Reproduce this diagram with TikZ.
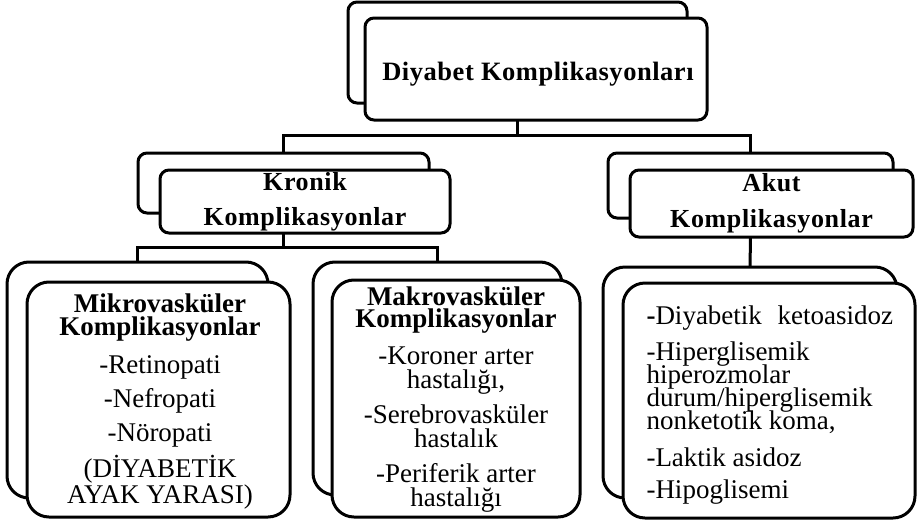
\documentclass[tikz,border=0pt]{standalone}
\usepackage{fontspec}
\setmainfont{Liberation Serif}
\newfontfamily\titlefont{Liberation Serif}[LetterSpace=2]
\newfontfamily\trackfont{Liberation Serif}[LetterSpace=2.5]
\begin{document}
\begin{tikzpicture}[x=1pt,y=-1pt,line width=3pt,
  box/.style={draw=black, fill=white, inner sep=0pt, outer sep=0pt, rounded corners=#1},
  box/.default=9pt,
  link/.style={draw=black, line width=3pt},
  head/.style={font={\trackfont\bfseries\fontsize{26}{35}\selectfont\lineskiplimit=-100pt}, align=center},
  list/.style={inner sep=0pt, font={\fontsize{27}{#1}\selectfont\lineskiplimit=-100pt}},
  list/.default=23]
\useasboundingbox (0,0) rectangle (917,522);

% level 0
\node[box, minimum width=339pt, minimum height=101pt] (topB) at (517.5,52.5) {};
\node[box, minimum width=342pt, minimum height=102pt] (topF) at (536,69) {};
\node[font={\titlefont\bfseries\fontsize{26.5}{30}\selectfont}, anchor=base] (topT) at (538,80) {Diyabet Komplikasyonları};

% level 1
\node[box, minimum width=291pt, minimum height=60pt] (kroB) at (283.5,183) {};
\node[box, head, minimum width=290pt, minimum height=63pt] (kroF) at (305,201.5) {Kronik\\Komplikasyonlar};
\node[box, minimum width=285pt, minimum height=65pt] (akuB) at (750.5,185.5) {};
\node[box, head, minimum width=283pt, minimum height=67pt] (akuF) at (771.5,203.5) {Akut\\[1pt]Komplikasyonlar};

% level 2: back and front cards, then their texts
\node[box=22pt, minimum width=261pt, minimum height=236pt] (mikB) at (137.5,380) {};
\node[box=22pt, minimum width=263pt, minimum height=235pt] (mikF) at (158.5,399.5) {};
\node[list, align=center, anchor=north] (mikT) at (160,292.7)
  {\textbf{Mikrovasküler}\\\textbf{Komplikasyonlar}\\[15pt]-Retinopati\\[11pt]-Nefropati\\[11pt]-Nöropati\\[13pt](DİYABETİK\\[3pt]AYAK YARASI)};

\node[box=22pt, minimum width=249pt, minimum height=233pt] (makB) at (437.5,378.5) {};
\node[box=22pt, minimum width=248pt, minimum height=237pt] (makF) at (456,398.5) {};
\node[list=24, align=center, anchor=north] (makT) at (456,285.6)
  {\textbf{Makrovasküler}\\[-2pt]\textbf{Komplikasyonlar}\\[13pt]-Koroner arter\\hastalığı,\\[11pt]-Serebrovasküler\\hastalık\\[11pt]-Periferik arter\\hastalığı};

\node[box=22pt, minimum width=294pt, minimum height=231pt] (akbB) at (750,382.5) {};
\node[box=22pt, minimum width=292pt, minimum height=235pt] (akbF) at (769,400.5) {};
\node[list, align=left, anchor=north west] (akbT) at (645,304.6)
  {\textbf{-}Diyabetik\hspace{9pt} ketoasidoz\\[13pt]-Hiperglisemik\\hiperozmolar\\durum/hiperglisemik\\nonketotik koma,\\[14pt]-Laktik asidoz\\[9pt]-Hipoglisemi};

% connectors
\draw[link] (topB |- topF.south) -- ++(0,15) coordinate (j1);
\draw[link] (kroB.north) |- (j1) -| (akuB.north);
\draw[link] (kroB |- kroF.south) -- ++(0,14) coordinate (j2);
\draw[link] (mikB.north) |- (j2) -| (makB.north);
\draw[link] (akuB |- akuF.south) -- (akbB.north);
\end{tikzpicture}
\end{document}
